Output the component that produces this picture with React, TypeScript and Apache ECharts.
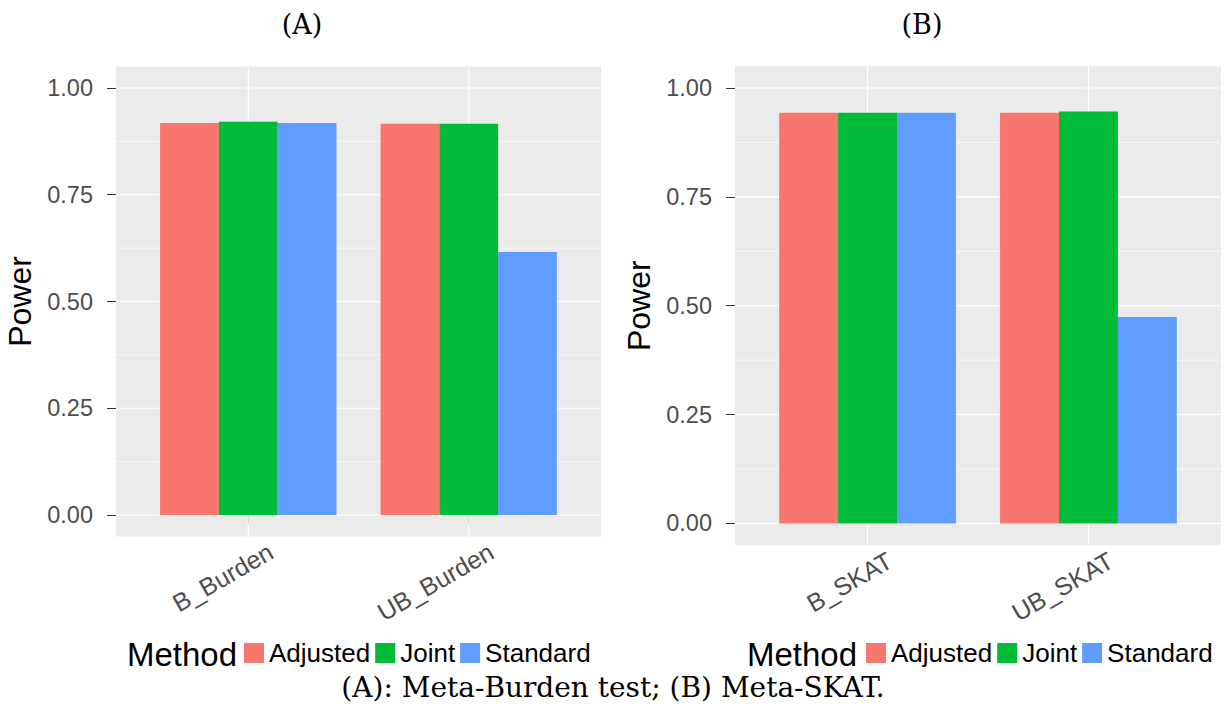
import React, { useEffect, useRef } from "react";
import * as echarts from "echarts";

const methods = ["Adjusted", "Joint", "Standard"];
const methodColors = ["#F8766D", "#00BA38", "#619CFF"];

const categoriesA = ["B_Burden", "UB_Burden"];
const categoriesB = ["B_SKAT", "UB_SKAT"];

const adjustedA = [0.918, 0.916];
const jointA = [0.921, 0.916];
const standardA = [0.918, 0.616];

const adjustedB = [0.943, 0.943];
const jointB = [0.943, 0.946];
const standardB = [0.943, 0.474];

const yTicks = [0, 0.25, 0.5, 0.75, 1];
const yMinor = [0.125, 0.375, 0.625, 0.875];
const xTicks = [1, 2];

const panelTitles = ["(A)", "(B)"];
const yTitle = "Power";
const legendTitle = "Method";
const caption = "(A): Meta-Burden test; (B) Meta-SKAT.";

const SANS = "'Liberation Sans', Arial, Helvetica, sans-serif";
const SERIF = "'DejaVu Serif', 'Liberation Serif', serif";

export default function App() {
  const ref = useRef<HTMLDivElement>(null);

  useEffect(() => {
    if (!ref.current) return;
    const chart = echarts.init(ref.current, undefined, { renderer: "svg" });

    const panels = [
      { cats: categoriesA, vals: [adjustedA, jointA, standardA], grid: { left: 116, top: 66.6, width: 485, height: 469.8 } },
      { cats: categoriesB, vals: [adjustedB, jointB, standardB], grid: { left: 735, top: 66.2, width: 486, height: 479 } },
    ];

    const grids: any[] = [];
    const xAxes: any[] = [];
    const yAxes: any[] = [];
    const series: any[] = [];

    panels.forEach((p, pi) => {
      grids.push({
        ...p.grid,
        show: true,
        backgroundColor: "#EBEBEB",
        borderWidth: 0,
        containLabel: false,
        outerBoundsMode: "none",
      });
      xAxes.push({
        type: "value",
        gridIndex: pi,
        min: 0.4,
        max: 2.6,
        axisLine: { show: false },
        axisTick: { show: true, customValues: xTicks, length: 9, lineStyle: { color: "#333333", width: 1 } },
        axisLabel: {
          customValues: xTicks,
          formatter: (v: number) => p.cats[Math.round(v) - 1] ?? "",
          rotate: 30,
          fontSize: 25,
          color: "#4D4D4D",
          fontFamily: SANS,
          margin: 26,
          padding: [0, -26, 0, 0],
        },
        splitLine: { show: false },
      });
      yAxes.push({
        type: "value",
        gridIndex: pi,
        min: -0.05,
        max: 1.05,
        name: yTitle,
        nameLocation: "middle",
        nameGap: 80,
        nameTextStyle: { fontSize: 32, color: "#000000", fontFamily: SANS },
        axisLine: { show: false },
        axisTick: { show: true, customValues: yTicks, length: 9, lineStyle: { color: "#333333", width: 1 } },
        axisLabel: {
          customValues: yTicks,
          formatter: (v: number) => v.toFixed(2),
          fontSize: 23.5,
          color: "#4D4D4D",
          fontFamily: SANS,
          margin: 23,
        },
        splitLine: { show: false },
      });

      const gridData = [
        ...yTicks.map((v) => [v, 0, 1]),
        ...yMinor.map((v) => [v, 0, 0]),
        ...xTicks.map((v) => [v, 1, 1]),
      ];
      series.push({
        type: "custom",
        xAxisIndex: pi,
        yAxisIndex: pi,
        silent: true,
        z: 1,
        data: gridData,
        renderItem: (params: any, api: any) => {
          const cs = params.coordSys;
          const pos = api.value(0);
          const vert = api.value(1);
          const major = api.value(2);
          const lw = major ? 1.1 : 0.7;
          if (vert) {
            const x = api.coord([pos, 0])[0];
            return { type: "line", shape: { x1: x, y1: cs.y, x2: x, y2: cs.y + cs.height }, style: { stroke: "#FFFFFF", lineWidth: lw } };
          }
          const y = api.coord([1, pos])[1];
          return { type: "line", shape: { x1: cs.x, y1: y, x2: cs.x + cs.width, y2: y }, style: { stroke: "#FFFFFF", lineWidth: lw } };
        },
      });

      methods.forEach((m, mi) => {
        series.push({
          type: "bar",
          name: m,
          xAxisIndex: pi,
          yAxisIndex: pi,
          z: 2,
          barWidth: "26.667%",
          barGap: "0%",
          itemStyle: { color: methodColors[mi] },
          data: p.vals[mi].map((v, i) => [i + 1, v]),
        });
      });
    });

    const legendBase = {
      orient: "horizontal",
      icon: "rect",
      itemWidth: 20,
      itemHeight: 20,
      itemGap: 5,
      padding: 0,
      top: 640,
      selectedMode: false,
      data: methods,
      textStyle: { fontSize: 26, color: "#000000", fontFamily: SANS },
    };

    chart.setOption({
      animation: false,
      textStyle: { fontFamily: SANS },
      grid: grids,
      xAxis: xAxes,
      yAxis: yAxes,
      series,
      legend: [
        { ...legendBase, left: 244 },
        { ...legendBase, left: 866 },
      ],
      graphic: [
        { type: "text", x: 302, y: 24, style: { text: panelTitles[0], fontSize: 27, fontFamily: SERIF, fill: "#000", align: "center", verticalAlign: "middle" } },
        { type: "text", x: 922, y: 24, style: { text: panelTitles[1], fontSize: 27, fontFamily: SERIF, fill: "#000", align: "center", verticalAlign: "middle" } },
        { type: "text", x: 127, y: 654, style: { text: legendTitle, fontSize: 33, fontFamily: SANS, fill: "#000", align: "left", verticalAlign: "middle" } },
        { type: "text", x: 747, y: 654, style: { text: legendTitle, fontSize: 33, fontFamily: SANS, fill: "#000", align: "left", verticalAlign: "middle" } },
        { type: "text", x: 613, y: 687, style: { text: caption, fontSize: 28, fontFamily: SERIF, fill: "#000", align: "center", verticalAlign: "middle" } },
      ],
    });

    return () => chart.dispose();
  }, []);

  return (
    <div
      ref={ref}
      style={{ position: "fixed", left: 0, top: 0, width: 1225, height: 706, background: "#FFFFFF" }}
    />
  );
}
